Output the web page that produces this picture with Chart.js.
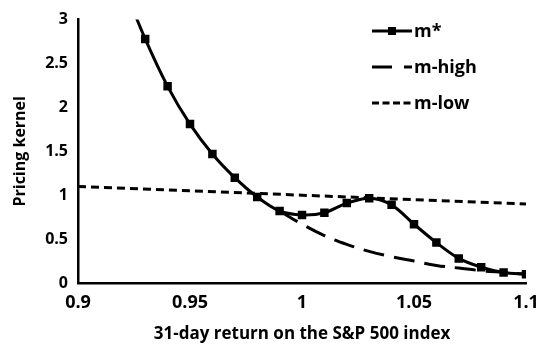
<!DOCTYPE html>
<html>
<head>
<meta charset="utf-8">
<script src="https://cdn.jsdelivr.net/npm/chart.js@4/dist/chart.umd.min.js"></script>
<style>
html,body{margin:0;padding:0;background:#fff;}
#wrap{width:540px;height:346px;position:relative;}
</style>
</head>
<body>
<div id="wrap"><canvas id="c" width="540" height="346"></canvas></div>
<script>
// Data
const returnsStar = [0.92, 0.93, 0.94, 0.95, 0.96, 0.97, 0.98, 0.99, 1.00, 1.01, 1.02, 1.03, 1.04, 1.05, 1.06, 1.07, 1.08, 1.09, 1.10];
const mStar       = [3.40, 2.78, 2.24, 1.81, 1.47, 1.20, 0.98, 0.82, 0.775, 0.80, 0.91, 0.966, 0.89, 0.67, 0.46, 0.28, 0.18, 0.12, 0.10];
const returnsHigh = [0.99, 1.00, 1.01, 1.02, 1.03, 1.04, 1.05, 1.06, 1.07, 1.08, 1.09, 1.10];
const mHigh       = [0.82, 0.67, 0.54, 0.44, 0.36, 0.30, 0.25, 0.20, 0.17, 0.14, 0.12, 0.10];
const returnsLow  = [0.90, 1.00, 1.10];
const mLow        = [1.10, 1.00, 0.90];
const xTicks = [0.9, 0.95, 1, 1.05, 1.1];
const yTicks = [0, 0.5, 1, 1.5, 2, 2.5, 3];
const seriesNames = ['m*', 'm-high', 'm-low'];

const FONT = '"Open Sans"';
const toXY = (xs, ys) => xs.map((x, i) => ({x: x, y: ys[i]}));

const legendPlugin = {
  id: 'customLegend',
  afterDraw(chart) {
    const ctx = chart.ctx;
    ctx.save();
    const x0 = 372, x1 = 412, ys = [31, 67, 103];
    ctx.strokeStyle = '#000';
    ctx.fillStyle = '#000';
    ctx.lineWidth = 3;
    // m*
    ctx.setLineDash([]);
    ctx.beginPath(); ctx.moveTo(x0, ys[0]); ctx.lineTo(x1, ys[0]); ctx.stroke();
    ctx.fillRect(388, ys[0] - 4, 8, 8);
    // m-high
    ctx.beginPath(); ctx.moveTo(x0, ys[1]); ctx.lineTo(392, ys[1]); ctx.stroke();
    ctx.beginPath(); ctx.moveTo(404, ys[1]); ctx.lineTo(x1, ys[1]); ctx.stroke();
    // m-low
    ctx.setLineDash([7, 3.5]);
    ctx.beginPath(); ctx.moveTo(x0, ys[2]); ctx.lineTo(x1, ys[2]); ctx.stroke();
    ctx.setLineDash([]);
    ctx.font = 'bold 18px ' + FONT;
    ctx.textBaseline = 'middle';
    ctx.textAlign = 'left';
    seriesNames.forEach((n, i) => ctx.fillText(n, 414, ys[i] + 1));
    ctx.restore();
  }
};

new Chart(document.getElementById('c'), {
  type: 'line',
  data: {
    datasets: [
      {
        label: seriesNames[0],
        data: toXY(returnsStar, mStar),
        borderColor: '#000',
        backgroundColor: '#000',
        borderWidth: 3,
        pointStyle: 'rect',
        pointRadius: 6,
        pointBorderWidth: 0,
        tension: 0.3,
        order: 0
      },
      {
        label: seriesNames[1],
        data: toXY(returnsHigh, mHigh),
        borderColor: '#000',
        borderWidth: 3,
        borderDash: [21, 10],
        pointRadius: 0,
        tension: 0.4,
        order: 1
      },
      {
        label: seriesNames[2],
        data: toXY(returnsLow, mLow),
        borderColor: '#000',
        borderWidth: 3,
        borderDash: [8, 5],
        pointRadius: 0,
        tension: 0,
        order: 2
      }
    ]
  },
  options: {
    responsive: false,
    animation: false,
    devicePixelRatio: 1,
    layout: {padding: {top: 16, right: 0, left: 0, bottom: 0}},
    plugins: {legend: {display: false}, tooltip: {enabled: false}},
    scales: {
      x: {
        type: 'linear',
        min: 0.9, max: 1.1,
        afterBuildTicks: s => { s.ticks = xTicks.map(v => ({value: v})); },
        afterFit: s => { s.height = 63; s.paddingRight = 14; s.paddingLeft = 0; },
        grid: {display: false, drawTicks: false},
        border: {display: true, color: '#000', width: 2.5},
        ticks: {
          color: '#000', padding: 9,
          font: {family: FONT, size: 18, weight: 'bold'},
          callback: v => String(v)
        },
        title: {
          display: true,
          text: '31-day return on the S&P 500 index',
          color: '#000',
          font: {family: FONT, size: 17, weight: 'bold'},
          padding: {top: 8, bottom: 2}
        }
      },
      y: {
        type: 'linear',
        min: 0, max: 3,
        afterBuildTicks: s => { s.ticks = yTicks.map(v => ({value: v})); },
        afterFit: s => { s.width = 78; },
        grid: {display: false, drawTicks: false},
        border: {display: true, color: '#000', width: 2.5},
        ticks: {
          color: '#000', padding: 10,
          font: {family: FONT, size: 16, weight: 'bold'},
          callback: v => String(v)
        },
        title: {
          display: true,
          text: 'Pricing kernel',
          color: '#000',
          font: {family: FONT, size: 16, weight: 'bold'},
          padding: {top: 11, bottom: 0}
        }
      }
    }
  },
  plugins: [legendPlugin]
});
</script>
</body>
</html>
